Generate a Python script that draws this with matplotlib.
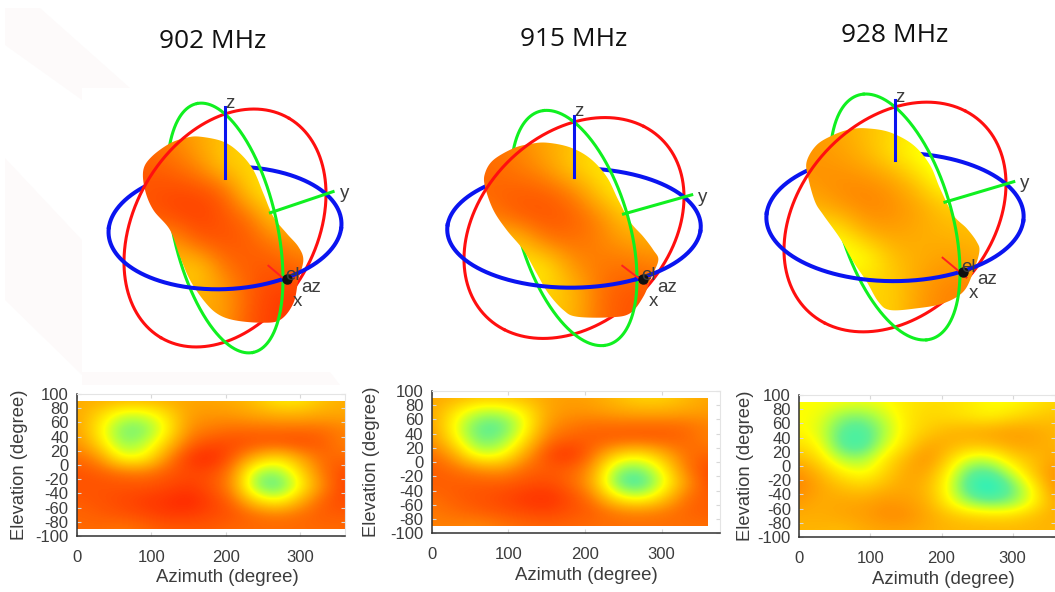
import matplotlib
matplotlib.use('Agg')
import matplotlib.pyplot as plt
import numpy as np
from matplotlib.colors import LinearSegmentedColormap
from matplotlib.patches import Polygon, Rectangle

W, H = 1055, 592

titles = ['902 MHz', '915 MHz', '928 MHz']
az_ticks = [0, 100, 200, 300]
el_ticks = [100, 80, 60, 40, 20, 0, -20, -40, -60, -80, -100]

# gain, 0 = cyan, .5 = yellow, 1 = red
# rows: el 90, 70 ... -90   columns: az 0, 30 ... 360
gain_902 = [
    [.70, .70, .68, .68, .70, .72, .72, .70, .65, .55, .55, .65, .70],
    [.72, .60, .42, .42, .56, .74, .76, .75, .72, .70, .70, .72, .72],
    [.74, .54, .28, .28, .50, .78, .82, .85, .85, .85, .85, .85, .80],
    [.78, .60, .32, .38, .62, .86, .92, .92, .90, .90, .92, .88, .80],
    [.85, .78, .48, .50, .78, .96, 1.0, .88, .68, .56, .72, .86, .85],
    [.90, .88, .84, .82, .88, .92, .92, .80, .36, .32, .58, .84, .92],
    [.90, .90, .90, .90, .92, .95, .90, .78, .30, .20, .50, .80, .94],
    [.88, .90, .92, .95, .97, 1.0, .94, .86, .60, .48, .70, .88, .92],
    [.86, .88, .90, .92, .95, .95, .92, .90, .85, .82, .85, .88, .88],
    [.85, .85, .82, .85, .88, .88, .88, .85, .85, .85, .85, .85, .85],
]
gain_915 = [
    [.72, .70, .66, .66, .68, .72, .74, .72, .66, .60, .60, .66, .72],
    [.72, .56, .40, .40, .52, .72, .76, .75, .72, .70, .70, .72, .74],
    [.74, .48, .24, .22, .46, .76, .82, .85, .85, .86, .86, .85, .80],
    [.78, .54, .26, .30, .56, .84, .88, .88, .88, .88, .88, .86, .80],
    [.85, .72, .42, .46, .72, .92, .98, .84, .62, .54, .68, .84, .86],
    [.88, .84, .78, .74, .85, .88, .88, .76, .34, .28, .50, .82, .92],
    [.88, .88, .88, .88, .90, .92, .86, .72, .26, .14, .42, .74, .92],
    [.84, .88, .90, .92, .96, .98, .92, .82, .54, .42, .60, .84, .88],
    [.82, .85, .88, .90, .92, .94, .90, .88, .82, .80, .82, .86, .88],
    [.80, .80, .78, .82, .85, .86, .86, .84, .84, .84, .84, .84, .84],
]
gain_928 = [
    [.50, .50, .50, .48, .50, .55, .58, .58, .55, .50, .50, .55, .60],
    [.50, .48, .32, .30, .42, .55, .60, .58, .55, .52, .58, .62, .65],
    [.52, .45, .22, .18, .36, .55, .62, .68, .70, .72, .74, .72, .68],
    [.58, .50, .20, .16, .42, .58, .72, .70, .66, .68, .72, .72, .68],
    [.68, .58, .38, .35, .55, .68, .78, .62, .42, .42, .60, .66, .72],
    [.78, .68, .55, .48, .60, .72, .72, .52, .22, .20, .42, .65, .78],
    [.80, .72, .66, .62, .68, .72, .68, .48, .16, .05, .25, .52, .78],
    [.75, .70, .72, .72, .76, .74, .70, .52, .32, .25, .30, .50, .72],
    [.70, .70, .72, .74, .78, .78, .72, .66, .62, .60, .60, .66, .70],
    [.68, .68, .66, .70, .72, .72, .70, .68, .68, .68, .68, .68, .68],
]
gains = [gain_902, gain_915, gain_928]

# 3D pattern silhouettes, pixels of the 3x crops
blob_x = [
    [330, 400, 450, 490, 520, 550, 590, 625, 640, 625, 610, 570, 510, 430, 380, 340, 300, 270, 240, 190, 165, 160, 185, 240, 290],
    [350, 420, 480, 530, 565, 600, 640, 670, 685, 665, 640, 600, 540, 440, 400, 355, 320, 280, 230, 190, 165, 165, 190, 250, 300],
    [350, 420, 490, 540, 570, 610, 650, 680, 688, 670, 640, 580, 500, 420, 385, 350, 310, 270, 220, 195, 175, 170, 200, 250, 300],
]
blob_y = [
    [140, 155, 190, 240, 310, 380, 430, 470, 510, 570, 640, 690, 698, 690, 670, 630, 570, 500, 420, 360, 300, 240, 200, 160, 143],
    [158, 172, 205, 260, 330, 395, 440, 480, 510, 560, 620, 670, 682, 680, 660, 610, 550, 480, 420, 360, 290, 250, 210, 175, 162],
    [160, 172, 210, 270, 340, 420, 460, 500, 530, 590, 650, 685, 700, 705, 680, 620, 560, 490, 420, 380, 310, 260, 210, 180, 163],
]
crop_x0 = [90, 430, 750]
crop_y0 = [90, 90, 75]

# shading over the silhouettes, coarse grid, top row first
shade_902 = [
    [.85, .80, .72, .65, .60, .60, .60],
    [.88, .85, .78, .62, .60, .60, .60],
    [.90, .92, .92, .88, .60, .52, .60],
    [.88, .92, .94, .90, .85, .62, .65],
    [.75, .72, .88, .90, .88, .82, .75],
    [.70, .65, .58, .82, .88, .90, .85],
    [.70, .70, .70, .72, .88, .95, .95],
    [.70, .70, .70, .75, .90, .95, .95],
]
shade_915 = [
    [.85, .80, .72, .66, .58, .58, .60],
    [.85, .82, .76, .62, .55, .55, .60],
    [.86, .88, .88, .82, .62, .50, .60],
    [.80, .88, .90, .88, .80, .62, .62],
    [.65, .62, .82, .84, .80, .74, .72],
    [.60, .55, .52, .76, .82, .84, .80],
    [.62, .62, .60, .66, .84, .90, .88],
    [.62, .62, .62, .68, .85, .90, .90],
]
shade_928 = [
    [.76, .72, .66, .60, .52, .52, .58],
    [.76, .74, .68, .56, .46, .42, .58],
    [.76, .78, .78, .74, .60, .42, .60],
    [.68, .76, .80, .78, .72, .62, .62],
    [.54, .52, .72, .74, .70, .68, .66],
    [.50, .44, .46, .66, .70, .74, .70],
    [.60, .60, .60, .62, .74, .80, .78],
    [.60, .60, .60, .62, .76, .80, .80],
]
shades = [shade_902, shade_915, shade_928]

# projected frame of each sphere: centre and x, y, z unit vectors on screen
centres = [(225, 228), (574, 228), (895, 217)]
ex = [(58, 51), (63, 51), (65, 55)]
ey = [(101, -34), (110, -31), (111, -33)]
ez = [(0, -114), (0, -106), (0, -110)]
x_tips = [(62, 51), (69, 51), (68, 55)]
z_starts = [.44, .48, .52]
depth_dir = (.78, -.53, .43)

# axes boxes in pixels: x of az=0, px per 100 az, y of el=100, y of el=-100, right end
heat_x0 = [77, 431.7, 799.3]
heat_scale = [74.4, 76.6, 71.1]
heat_top = [394, 391, 395]
heat_bot = [536, 533.3, 537]
heat_xmax = [360, 376, 360]
ylabel_x = [19, 372, 745]

title_x = [213, 574, 895]
title_y = [42, 40, 36]

gain_cmap = LinearSegmentedColormap.from_list(
    'gain', [(0, '#00f0e0'), (.25, '#60f090'), (.38, '#b0ff40'), (.5, '#ffff00'),
             (.75, '#ff9a00'), (1, '#ff2400')])

plt.rcParams['font.family'] = ['Liberation Sans', 'DejaVu Sans']
plt.rcParams['axes.unicode_minus'] = False
TXT = '#3c3c3c'

fig = plt.figure(figsize=(W / 100, H / 100), dpi=100)

# full figure axes in pixel coordinates for the 3D part
bg = fig.add_axes([0, 0, 1, 1])
bg.set_xlim(0, W)
bg.set_ylim(H, 0)
bg.axis('off')

# faint slide watermark behind everything
wm = '#fdfafa'
bg.add_patch(Polygon([(5, 8), (40, 8), (130, 88), (82, 88), (82, 100), (5, 45)], color=wm, lw=0))
bg.add_patch(Polygon([(5, 158), (82, 240), (82, 375), (5, 300)], color=wm, lw=0))
bg.add_patch(Polygon([(82, 372), (330, 372), (340, 385), (82, 385)], color=wm, lw=0))


def smooth_outline(x, y, n=12):
    # closed catmull-rom through the outline points
    p = np.column_stack([x, y]).astype(float)
    out = []
    for i in range(len(p)):
        p0, p1, p2, p3 = p[i - 1], p[i], p[(i + 1) % len(p)], p[(i + 2) % len(p)]
        for t in np.linspace(0, 1, n, endpoint=False):
            out.append(.5 * (2 * p1 + (p2 - p0) * t + (2 * p0 - 5 * p1 + 4 * p2 - p3) * t ** 2
                             + (3 * p1 - p0 - 3 * p2 + p3) * t ** 3))
    return np.array(out)


def draw_ring(c, u, v, du, dv, color, lw):
    t = np.linspace(0, 2 * np.pi, 721)
    px = c[0] + np.cos(t) * u[0] + np.sin(t) * v[0]
    py = c[1] + np.cos(t) * u[1] + np.sin(t) * v[1]
    depth = np.cos(t) * du + np.sin(t) * dv
    bg.plot(np.where(depth < 0, px, np.nan), np.where(depth < 0, py, np.nan), color=color, lw=lw, zorder=2)
    bg.plot(np.where(depth >= 0, px, np.nan), np.where(depth >= 0, py, np.nan), color=color, lw=lw, zorder=5)


for i in range(3):
    c, x_v, y_v, z_v, tip = centres[i], ex[i], ey[i], ez[i], x_tips[i]
    bx = np.array(blob_x[i]) / 3 + crop_x0[i]
    by = np.array(blob_y[i]) / 3 + crop_y0[i]
    outline = smooth_outline(bx, by)

    # silhouette with a shaded image clipped to it
    blob = Polygon(outline, closed=True, fc='none', ec='none', transform=bg.transData)
    bg.add_patch(blob)
    shade = bg.imshow(shades[i], cmap=gain_cmap, vmin=0, vmax=1, interpolation='bicubic', aspect='auto',
                      extent=(bx.min() - 12, bx.max() + 12, by.max() + 12, by.min() - 12), zorder=3)
    shade.set_clip_path(blob)

    draw_ring(c, y_v, z_v, depth_dir[1], depth_dir[2], '#ff0f0f', 2.2)
    draw_ring(c, x_v, z_v, depth_dir[0], depth_dir[2], '#10f020', 2.2)
    draw_ring(c, x_v, y_v, depth_dir[0], depth_dir[1], '#0a14f0', 2.9)

    # axis stubs
    s = z_starts[i]
    bg.plot([c[0] + s * z_v[0], c[0] + 1.06 * z_v[0]], [c[1] + s * z_v[1], c[1] + 1.06 * z_v[1]],
            color='#0a14f0', lw=2.2, zorder=6)
    bg.plot([c[0] + .45 * y_v[0], c[0] + 1.07 * y_v[0]], [c[1] + .45 * y_v[1], c[1] + 1.07 * y_v[1]],
            color='#10f020', lw=2.2, zorder=6)
    bg.plot([c[0] + .70 * tip[0], c[0] + 1.05 * tip[0]], [c[1] + .74 * tip[1], c[1] + 1.1 * tip[1]],
            color='#ff2020', lw=1.4, zorder=6)
    bg.plot(c[0] + tip[0], c[1] + tip[1], 'o', color='#101010', ms=6.5, zorder=7)

    # axis names
    labels = [('z', z_v, 5, -10), ('y', y_v, 19, 0), ('x', tip, 10, 22), ('el', tip, 6, -4), ('az', tip, 24, 8)]
    for name, base, dx, dy in labels:
        bg.text(c[0] + base[0] + dx, c[1] + base[1] + dy, name, fontsize=13.5, color=TXT,
                ha='center', va='center', zorder=8)

    bg.text(title_x[i], title_y[i], titles[i], family=['Open Sans', 'DejaVu Sans'], fontsize=18.9,
            color='#111111', ha='center', va='center')

bg.set_xlim(0, W)
bg.set_ylim(H, 0)

# the azimuth / elevation maps
az_edges = (-15, 375)
el_edges = (-100, 100)
for i in range(3):
    span = heat_xmax[i] * heat_scale[i] / 100
    height = heat_bot[i] - heat_top[i]
    ax = fig.add_axes([heat_x0[i] / W, 1 - heat_bot[i] / H, span / W, height / H])
    im = ax.imshow(gains[i], cmap=gain_cmap, vmin=0, vmax=1, interpolation='bicubic', aspect='auto',
                   origin='upper', extent=(az_edges[0], az_edges[1], el_edges[0], el_edges[1]))
    im.set_clip_path(Rectangle((0, -90), 360, 180, transform=ax.transData))
    ax.set_xlim(0, heat_xmax[i])
    ax.set_ylim(-100, 100)
    ax.set_xticks(az_ticks)
    ax.set_yticks(el_ticks)
    ax.tick_params(direction='in', length=3, width=.8, color='#707070', labelcolor=TXT, labelsize=12, pad=6)
    ax.xaxis.set_tick_params(pad=10)
    ax.tick_params(top=True, right=True, color='#d8d8d8', which='both')
    for side in ['left', 'bottom']:
        ax.spines[side].set_color('#303030')
        ax.spines[side].set_linewidth(1.1)
    for side in ['top', 'right']:
        ax.spines[side].set_color('#e4e4e4')
        ax.spines[side].set_linewidth(.8)
    ax.set_xlabel('Azimuth (degree)', fontsize=13.4, color=TXT, va='center')
    ax.xaxis.set_label_coords(202 / heat_xmax[i], -42 / height)
    ax.set_ylabel('Elevation (degree)', fontsize=13.2, color=TXT, va='center')
    ax.yaxis.set_label_coords((ylabel_x[i] - heat_x0[i]) / span, .5)

fig.savefig('out.png', dpi=100)
